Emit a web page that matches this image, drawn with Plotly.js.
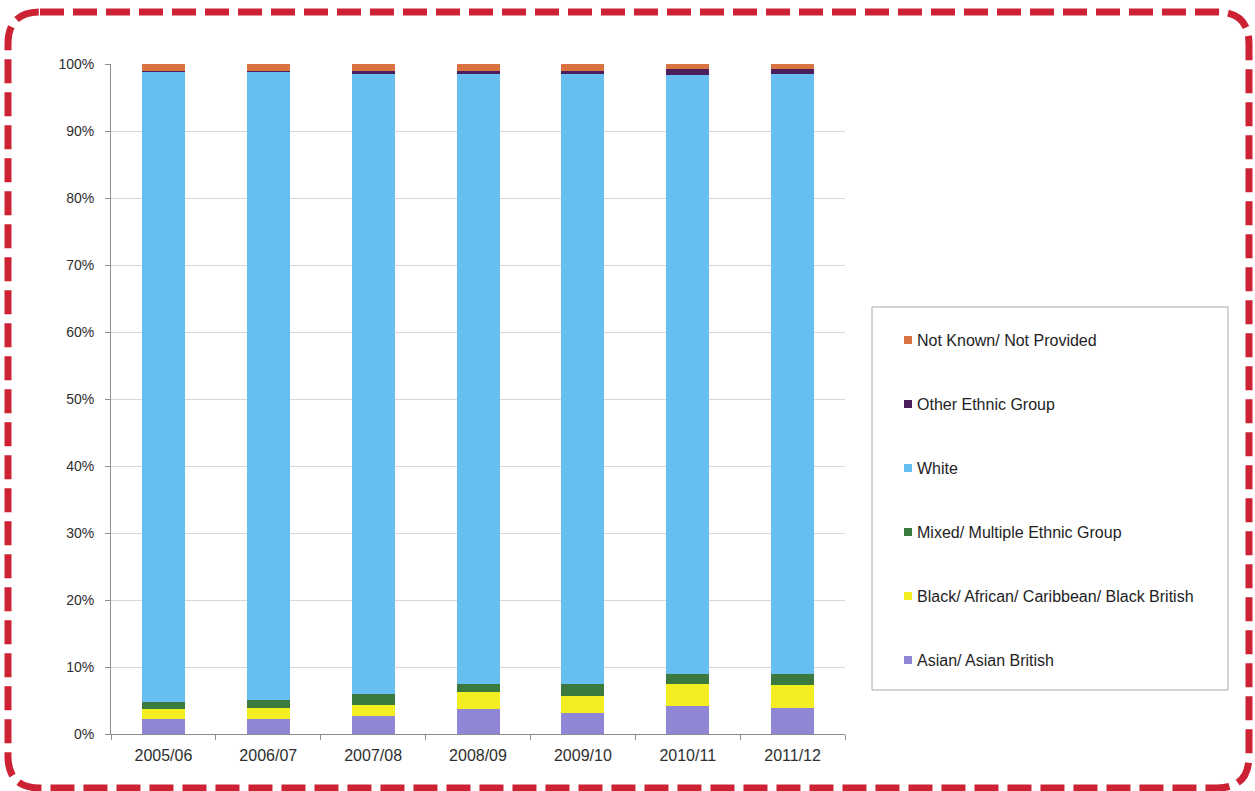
<!DOCTYPE html>
<html>
<head>
<meta charset="utf-8">
<script src="https://cdn.plot.ly/plotly-3.0.1.min.js"></script>
<style>
  html, body { margin: 0; padding: 0; background: #ffffff; }
  #chart { width: 1255px; height: 791px; }
</style>
</head>
<body>
<div id="chart"></div>
<script>
// Academic years
const years = ['2005/06', '2006/07', '2007/08', '2008/09', '2009/10', '2010/11', '2011/12'];

// Share of each ethnic group, in percent
const asian    = [2.2, 2.3, 2.7, 3.8, 3.1, 4.2, 3.9];
const black    = [1.6, 1.6, 1.7, 2.5, 2.5, 3.2, 3.4];
const mixed    = [1.0, 1.2, 1.5, 1.2, 1.8, 1.6, 1.6];
const white    = [94.0, 93.7, 92.6, 91.0, 91.1, 89.4, 89.6];
const other    = [0.2, 0.2, 0.4, 0.4, 0.5, 0.8, 0.75];
const notKnown = [1.0, 1.0, 1.1, 1.1, 1.0, 0.8, 0.75];

const seriesNames = [
  'Asian/ Asian British',
  'Black/ African/ Caribbean/ Black British',
  'Mixed/ Multiple Ethnic Group',
  'White',
  'Other Ethnic Group',
  'Not Known/ Not Provided'
];
const seriesValues = [asian, black, mixed, white, other, notKnown];
const seriesColors = ['#8f87d6', '#f2ee22', '#3b7a3e', '#66bff0', '#4a1f5c', '#d9733f'];

// Plot-area geometry in page pixels
const W = 1255, H = 791;
const M = { l: 111, r: 410, t: 64, b: 57 };
const PW = W - M.l - M.r, PH = H - M.t - M.b;
const px = x => (x - M.l) / PW;          // page x -> paper x
const py = y => (H - M.b - y) / PH;      // page y -> paper y

// Stacked bars, one trace per group
const traces = seriesNames.map((name, i) => ({
  type: 'bar',
  x: years,
  y: seriesValues[i],
  name: name,
  marker: { color: seriesColors[i], line: { width: 0 } },
  showlegend: false,
  hovertemplate: '%{x}: %{y}%<extra>' + name + '</extra>'
}));

// Rounded dashed frame around the whole figure
function roundedFrame(x0, y0, x1, y1, r) {
  const X = v => px(v).toFixed(5), Y = v => py(v).toFixed(5);
  return 'M' + X(x0 + r) + ',' + Y(y0) +
    ' L' + X(x1 - r) + ',' + Y(y0) +
    ' Q' + X(x1) + ',' + Y(y0) + ' ' + X(x1) + ',' + Y(y0 + r) +
    ' L' + X(x1) + ',' + Y(y1 - r) +
    ' Q' + X(x1) + ',' + Y(y1) + ' ' + X(x1 - r) + ',' + Y(y1) +
    ' L' + X(x0 + r) + ',' + Y(y1) +
    ' Q' + X(x0) + ',' + Y(y1) + ' ' + X(x0) + ',' + Y(y1 - r) +
    ' L' + X(x0) + ',' + Y(y0 + r) +
    ' Q' + X(x0) + ',' + Y(y0) + ' ' + X(x0 + r) + ',' + Y(y0) + ' Z';
}

const shapes = [
  // legend box
  {
    type: 'rect', xref: 'paper', yref: 'paper',
    x0: px(872), x1: px(1228), y0: py(690), y1: py(307),
    line: { color: '#a8a8a8', width: 1 },
    fillcolor: 'rgba(0,0,0,0)',
    layer: 'below'
  },
  // outer frame
  {
    type: 'path', xref: 'paper', yref: 'paper',
    path: roundedFrame(8, 12, 1249, 788, 32),
    line: { color: '#cc2233', width: 7, dash: '24px,9px' },
    fillcolor: 'rgba(0,0,0,0)'
  }
];
const annotations = [];

// Legend entries, last series at the top
const legendTop = 340, legendStep = 64;
seriesNames.forEach((name, i) => {
  const row = seriesNames.length - 1 - i;
  const cy = legendTop + row * legendStep;
  shapes.push({
    type: 'rect', xref: 'paper', yref: 'paper',
    x0: px(904), x1: px(912), y0: py(cy + 4), y1: py(cy - 4),
    line: { width: 0 },
    fillcolor: seriesColors[i]
  });
  annotations.push({
    xref: 'paper', yref: 'paper',
    x: px(915), y: py(cy),
    xanchor: 'left', yanchor: 'middle',
    text: name,
    showarrow: false,
    font: { size: 16, color: '#1e1e1e' }
  });
});

const layout = {
  width: W,
  height: H,
  margin: M,
  paper_bgcolor: '#ffffff',
  plot_bgcolor: '#ffffff',
  barmode: 'stack',
  bargap: 0.59,
  showlegend: false,
  font: { family: '"Liberation Sans", Arial, sans-serif', color: '#2e2e2e' },
  xaxis: {
    type: 'category',
    showline: true,
    linecolor: '#8c8c8c',
    linewidth: 1,
    ticks: 'outside',
    tickson: 'boundaries',
    ticklen: 5,
    tickcolor: '#8c8c8c',
    ticklabelstandoff: 7,
    tickfont: { size: 16, color: '#2e2e2e' },
    showgrid: false,
    zeroline: false
  },
  yaxis: {
    range: [0, 100],
    dtick: 10,
    ticksuffix: '%',
    showline: true,
    linecolor: '#8c8c8c',
    linewidth: 1,
    ticks: 'outside',
    ticklen: 5,
    tickcolor: '#8c8c8c',
    ticklabelstandoff: 8,
    tickfont: { size: 14, color: '#2e2e2e' },
    showgrid: true,
    gridcolor: '#d8d8d8',
    gridwidth: 1,
    zeroline: false
  },
  shapes: shapes,
  annotations: annotations
};

Plotly.newPlot('chart', traces, layout, { displayModeBar: false, staticPlot: true });
</script>
</body>
</html>
